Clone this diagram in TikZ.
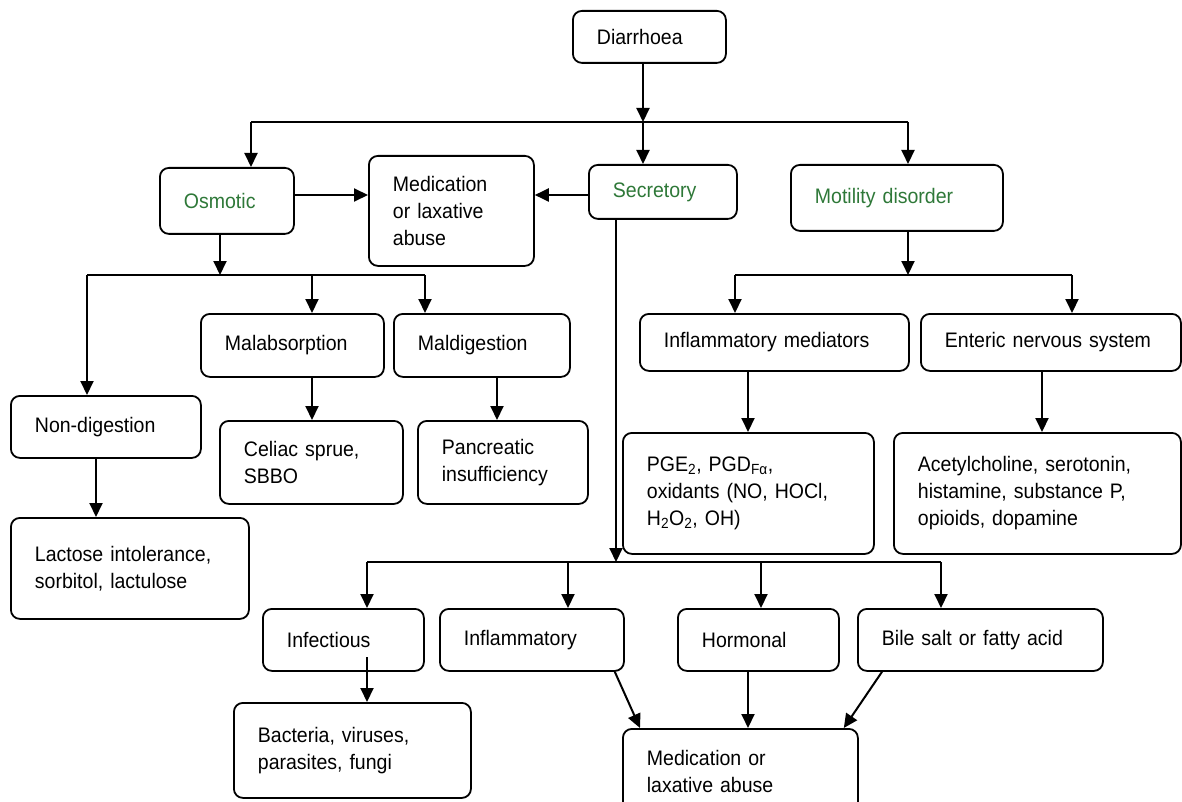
\documentclass[tikz,border=0pt]{standalone}
\usepackage{fontspec}
\setmainfont{Liberation Sans}[FakeStretch=0.93]
\usetikzlibrary{arrows.meta}
\definecolor{osgreen}{RGB}{46,120,56}
\tikzset{
  box/.style={draw, line width=1.8pt, rounded corners=9pt, align=left,
    inner xsep=0pt, inner ysep=0pt, anchor=north west,
    font=\fontsize{21}{27}\selectfont,
    execute at begin node={\leftskip=24pt\relax}},
  gtext/.style={text=osgreen},
  arr/.style={line width=2pt, -{Triangle[length=14pt,width=13pt]}},
  ln/.style={line width=2pt},
}
\begin{document}
\begin{tikzpicture}[x=1pt,y=-1pt]
\useasboundingbox (0,0) rectangle (1182,802);

% top level
\node[box, text width=153pt, minimum height=52pt] (dia) at (572,10) {Diarrhoea};
\node[box, gtext, text width=134pt, minimum height=66pt] (osm) at (159,167) {Osmotic};
\node[box, text width=165pt, minimum height=110pt] (medA) at (368,155) {Medication\\or laxative\\abuse};
\node[box, gtext, text width=148pt, minimum height=54pt] (sec) at (588,164) {Secretory};
\node[box, gtext, text width=212pt, minimum height=66pt] (mot) at (790,164) {Motility disorder};

% osmotic branch
\node[box, text width=190pt, minimum height=62pt] (nd) at (10,395) {Non-digestion};
\node[box, text width=238pt, minimum height=101pt] (lac) at (10,517) {Lactose intolerance,\\sorbitol, lactulose};
\node[box, text width=183pt, minimum height=63pt] (mab) at (200,313) {Malabsorption};
\node[box, text width=176pt, minimum height=63pt] (mdg) at (393,313) {Maldigestion};
\node[box, text width=183pt, minimum height=83pt] (cel) at (219,420) {Celiac sprue,\\SBBO};
\node[box, text width=170pt, minimum height=83pt] (pan) at (417,420) {Pancreatic\\insufficiency};

% motility branch
\node[box, text width=269pt, minimum height=57pt] (imed) at (639,313) {Inflammatory mediators};
\node[box, text width=260pt, minimum height=57pt] (ens) at (920,313) {Enteric nervous system};
\node[box, text width=251pt, minimum height=121pt] (pge) at (622,432) {PGE\textsubscript{2}, PGD\textsubscript{Fα},\\oxidants (NO, HOCl,\\H\textsubscript{2}O\textsubscript{2}, OH)};
\node[box, text width=287pt, minimum height=121pt] (ach) at (893,432) {Acetylcholine, serotonin,\\histamine, substance P,\\opioids, dopamine};

% secretory branch
\node[box, text width=161pt, minimum height=62pt] (inf) at (262,608) {Infectious};
\node[box, text width=184pt, minimum height=62pt] (infl) at (439,608) {Inflammatory};
\node[box, text width=161pt, minimum height=62pt] (hor) at (677,608) {Hormonal};
\node[box, text width=245pt, minimum height=62pt] (bile) at (857,608) {Bile salt or fatty acid};
\node[box, text width=237pt, minimum height=95pt] (bac) at (233,702) {Bacteria, viruses,\\parasites, fungi};
\node[box, text width=235pt, minimum height=86pt] (medB) at (622,728) {Medication or\\laxative abuse};

% coordinates
\coordinate (j1) at (643,122);
\coordinate (xL) at (251,122);
\coordinate (xR) at (908,122);
\coordinate (j2) at (220,275);
\coordinate (a1) at (87,275);
\coordinate (a2) at (312,275);
\coordinate (a3) at (425,275);
\coordinate (x96) at (96,0);
\coordinate (x497) at (497,0);
\coordinate (j3) at (616,562);
\coordinate (b1) at (367,562);
\coordinate (b2) at (568,562);
\coordinate (b3) at (761,562);
\coordinate (b4) at (941,562);
\coordinate (j4) at (908,275);
\coordinate (m1) at (735,275);
\coordinate (m2) at (1072,275);
\coordinate (x748) at (748,0);
\coordinate (x1042) at (1042,0);
\coordinate (c1) at (367,657);
\coordinate (y195) at (0,195);

% top connectors
\draw[arr] (dia.south -| j1) -- (j1);
\draw[ln] (xL) -- (xR);
\draw[arr] (xL) -- (osm.north -| xL);
\draw[arr] (j1) -- (sec.north -| j1);
\draw[arr] (xR) -- (mot.north -| xR);
\draw[arr] (osm.east |- y195) -- (medA.west |- y195);
\draw[arr] (sec.west |- y195) -- (medA.east |- y195);

% osmotic connectors
\draw[arr] (osm.south -| j2) -- (j2);
\draw[ln] (a1) -- (a3);
\draw[arr] (a1) -- (nd.north -| a1);
\draw[arr] (a2) -- (mab.north -| a2);
\draw[arr] (a3) -- (mdg.north -| a3);
\draw[arr] (nd.south -| x96) -- (lac.north -| x96);
\draw[arr] (mab.south -| a2) -- (cel.north -| a2);
\draw[arr] (mdg.south -| x497) -- (pan.north -| x497);

% motility connectors
\draw[arr] (mot.south -| j4) -- (j4);
\draw[ln] (m1) -- (m2);
\draw[arr] (m1) -- (imed.north -| m1);
\draw[arr] (m2) -- (ens.north -| m2);
\draw[arr] (imed.south -| x748) -- (pge.north -| x748);
\draw[arr] (ens.south -| x1042) -- (ach.north -| x1042);

% secretory connectors
\draw[arr] (sec.south -| j3) -- (j3);
\draw[ln] (b1) -- (b4);
\draw[arr] (b1) -- (inf.north -| b1);
\draw[arr] (b2) -- (infl.north -| b2);
\draw[arr] (b3) -- (hor.north -| b3);
\draw[arr] (b4) -- (bile.north -| b4);
\draw[arr] (c1) -- (bac.north -| c1);
\draw[arr] ([xshift=-10pt]infl.south east) -- ([xshift=18pt]medB.north west);
\draw[arr] (hor.south -| x748) -- (medB.north -| x748);
\draw[arr] ([xshift=25pt]bile.south west) -- ([xshift=-15pt]medB.north east);
\end{tikzpicture}
\end{document}
